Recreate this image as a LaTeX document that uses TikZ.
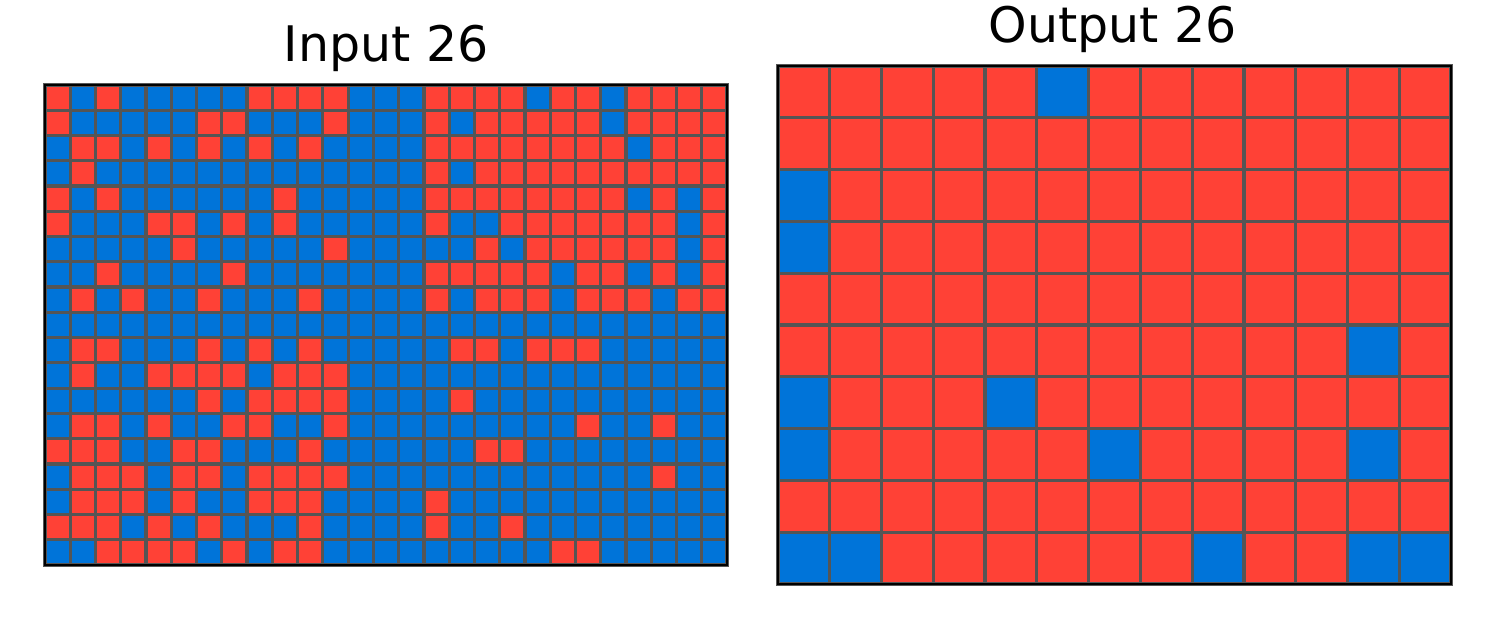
\documentclass[tikz,border=0pt]{standalone}
\usepackage{fontspec}
\setmainfont{DejaVu Sans}
\usepackage{xcolor}

\definecolor{arcblue}{HTML}{0074D9}
\definecolor{arcred}{HTML}{FF4136}
\definecolor{gridgray}{HTML}{555555}

\begin{document}
\begin{tikzpicture}[
  x=1pt, y=-1pt,
  every node/.style={font=\fontsize{49}{58}\selectfont, inner sep=0pt},
  cell1/.style={fill=arcblue, draw=gridgray, line width=3.2pt},
  cell2/.style={fill=arcred, draw=gridgray, line width=3.2pt},
  frame/.style={draw=black, line width=2.6pt},
]
\useasboundingbox (0,0) rectangle (1500,629);

% ---- Titles ----
\node[anchor=base] (intitle) at (386,61.5) {Input 26};
\node[anchor=base] (outtitle) at (1112.5,42.5) {Output 26};

% ---- Input grid: 27 x 19 cells (1 = blue, 2 = red) ----
\begin{scope}[shift={(45pt,-85pt)}, x=25.26pt, y=-25.26pt]
\foreach \row [count=\r from 0] in {
  {2,1,2,1,1,1,1,1,2,2,2,2,1,1,1,2,2,2,2,1,2,2,1,2,2,2,2},
  {2,1,1,1,1,1,2,2,1,1,1,2,1,1,1,2,1,2,2,2,2,2,1,2,2,2,2},
  {1,2,2,1,2,1,2,1,2,1,2,1,1,1,1,2,2,2,2,2,2,2,2,1,2,2,2},
  {1,2,1,1,1,1,1,1,1,1,1,1,1,1,1,2,1,2,2,2,2,2,2,2,2,2,2},
  {2,1,2,1,1,1,1,1,1,2,1,1,1,1,1,2,2,2,2,2,2,2,2,1,2,1,2},
  {2,1,1,1,2,2,1,2,1,2,1,1,1,1,1,2,1,1,2,2,2,2,2,2,2,1,2},
  {1,1,1,1,1,2,1,1,1,1,1,2,1,1,1,1,1,2,1,2,2,2,2,2,2,1,2},
  {1,1,2,1,1,1,1,2,1,1,1,1,1,1,1,2,2,2,2,2,1,2,2,1,2,1,2},
  {1,2,1,2,1,1,2,1,1,1,2,1,1,1,1,2,1,2,2,2,1,2,2,2,1,2,2},
  {1,1,1,1,1,1,1,1,1,1,1,1,1,1,1,1,1,1,1,1,1,1,1,1,1,1,1},
  {1,2,2,1,1,1,2,1,2,1,2,1,1,1,1,1,2,2,1,2,2,2,1,1,1,1,1},
  {1,2,1,1,2,2,2,2,1,2,2,2,1,1,1,1,1,1,1,1,1,1,1,1,1,1,1},
  {1,1,1,1,1,1,2,1,2,2,2,2,1,1,1,1,2,1,1,1,1,1,1,1,1,1,1},
  {1,2,2,1,2,1,1,2,2,1,1,2,1,1,1,1,1,1,1,1,1,2,1,1,2,1,1},
  {2,2,2,1,1,2,2,1,1,1,2,1,1,1,1,1,1,2,2,1,1,1,1,1,1,1,1},
  {1,2,2,2,1,2,2,1,2,2,2,2,1,1,1,1,1,1,1,1,1,1,1,1,2,1,1},
  {1,2,2,2,1,2,1,1,2,2,2,1,1,1,1,2,1,1,1,1,1,1,1,1,1,1,1},
  {2,2,2,1,2,1,2,1,1,1,2,1,1,1,1,2,1,1,2,1,1,1,1,1,1,1,1},
  {1,1,2,2,2,2,1,2,1,2,2,1,1,1,1,1,1,1,1,1,2,2,1,1,1,1,1}} {
  \foreach \v [count=\c from 0] in \row {
    \path[cell\v] (\c,\r) rectangle ++(1,1);
  }
}
\draw[frame] (0,0) rectangle (27,19);
\end{scope}

% ---- Output grid: 13 x 10 cells ----
\begin{scope}[shift={(778pt,-66pt)}, x=51.77pt, y=-51.8pt]
\foreach \row [count=\r from 0] in {
  {2,2,2,2,2,1,2,2,2,2,2,2,2},
  {2,2,2,2,2,2,2,2,2,2,2,2,2},
  {1,2,2,2,2,2,2,2,2,2,2,2,2},
  {1,2,2,2,2,2,2,2,2,2,2,2,2},
  {2,2,2,2,2,2,2,2,2,2,2,2,2},
  {2,2,2,2,2,2,2,2,2,2,2,1,2},
  {1,2,2,2,1,2,2,2,2,2,2,2,2},
  {1,2,2,2,2,2,1,2,2,2,2,1,2},
  {2,2,2,2,2,2,2,2,2,2,2,2,2},
  {1,1,2,2,2,2,2,2,1,2,2,1,1}} {
  \foreach \v [count=\c from 0] in \row {
    \path[cell\v] (\c,\r) rectangle ++(1,1);
  }
}
\draw[frame] (0,0) rectangle (13,10);
\end{scope}

\end{tikzpicture}
\end{document}
